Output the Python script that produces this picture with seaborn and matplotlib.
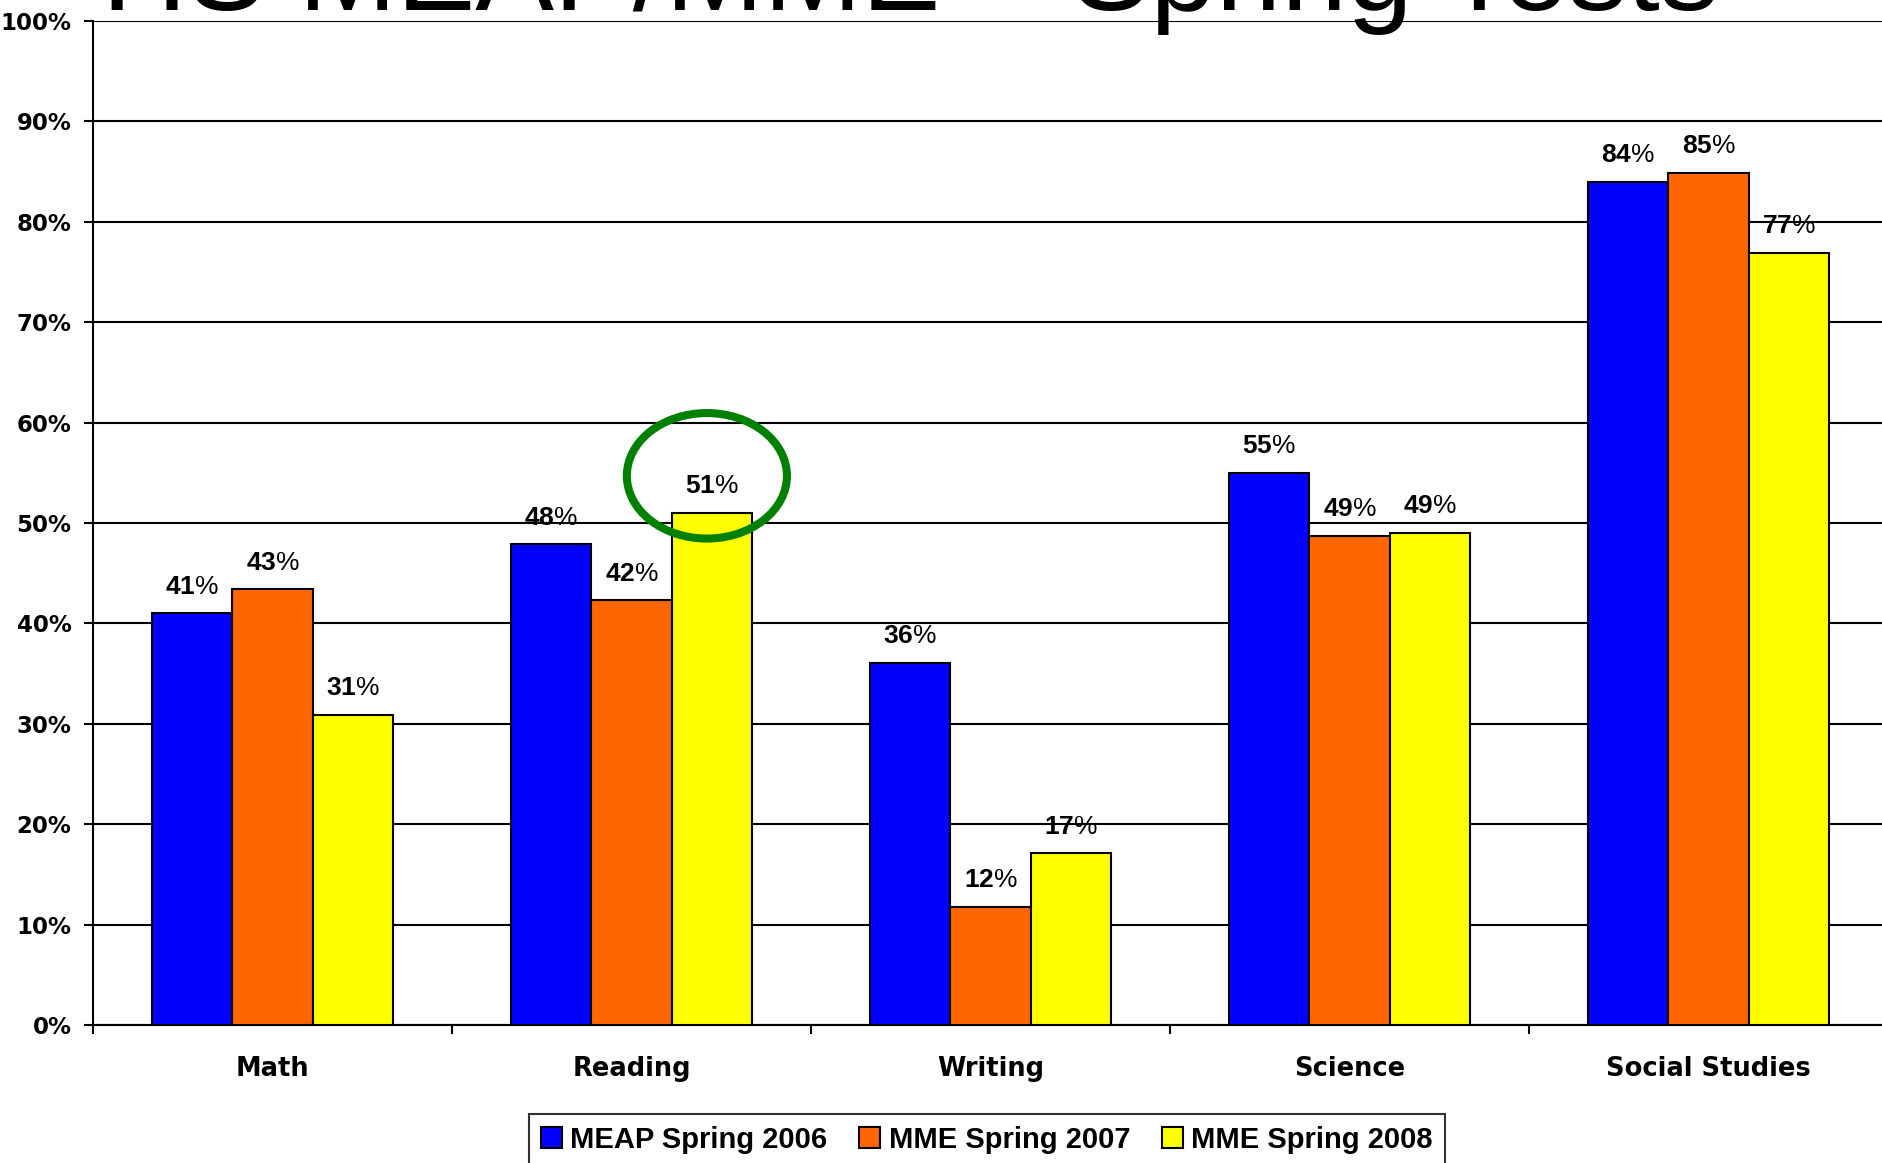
import matplotlib
matplotlib.use("Agg")
import matplotlib.pyplot as plt
import seaborn as sns
import pandas as pd
from matplotlib.patches import Ellipse
from matplotlib.ticker import FixedLocator

# ---- data ----
categories = ["Math", "Reading", "Writing", "Science", "Social Studies"]
series = ["MEAP Spring 2006", "MME Spring 2007", "MME Spring 2008"]
meap_2006 = [41.0, 47.9, 36.1, 55.0, 84.0]
mme_2007 = [43.4, 42.3, 11.8, 48.7, 84.9]
mme_2008 = [30.9, 51.0, 17.1, 49.0, 76.9]
labels_2006 = ["41%", "48%", "36%", "55%", "84%"]
labels_2007 = ["43%", "42%", "12%", "49%", "85%"]
labels_2008 = ["31%", "51%", "17%", "49%", "77%"]
y_ticks = [0, 10, 20, 30, 40, 50, 60, 70, 80, 90, 100]
y_tick_labels = [f"{v}%" for v in y_ticks]
title = "HS MEAP/MME \u2013 Spring Tests"
colors = ["#0000FF", "#FF6600", "#FFFF00"]

rows = []
for s, vals in zip(series, [meap_2006, mme_2007, mme_2008]):
    for c, v in zip(categories, vals):
        rows.append({"Subject": c, "Series": s, "Value": v})
df = pd.DataFrame(rows)

sns.set_theme(style="white")
plt.rcParams["font.family"] = ["Liberation Sans", "DejaVu Sans"]
plt.rcParams["text.color"] = "black"
plt.rcParams["xtick.color"] = "black"
plt.rcParams["ytick.color"] = "black"
plt.rcParams["xtick.labelcolor"] = "black"
plt.rcParams["ytick.labelcolor"] = "black"
plt.rcParams["legend.labelcolor"] = "black"
plt.rcParams["mathtext.fontset"] = "custom"
plt.rcParams["mathtext.rm"] = "Liberation Sans"
plt.rcParams["mathtext.bf"] = "Liberation Sans:bold"

W, H = 1883, 1163
fig = plt.figure(figsize=(W / 100, H / 100), dpi=100)
ax = fig.add_axes([93 / W, 1 - 1025 / H, 1795 / W, (1025 - 21) / H])

sns.barplot(data=df, x="Subject", y="Value", hue="Series", order=categories,
            hue_order=series, palette=colors, width=0.67, edgecolor="black",
            linewidth=1.5, saturation=1, ax=ax, zorder=3, legend=True)

ax.set_xlim(-0.5, 4.5)
ax.set_ylim(0, 100)
ax.set_yticks(y_ticks)
ax.set_yticklabels(y_tick_labels, fontsize=16.5, fontweight="bold",
                   family="DejaVu Sans", color="black")
ax.yaxis.grid(True, color="black", linewidth=1.5, zorder=0)
ax.set_axisbelow(True)
ax.set_xlabel("")
ax.set_ylabel("")
for side in ["top", "right"]:
    ax.spines[side].set_visible(False)
for side in ["left", "bottom"]:
    ax.spines[side].set_color("black")
    ax.spines[side].set_linewidth(1.5)
ax.tick_params(axis="y", which="major", direction="out", length=6.5, width=1.5,
               color="black", pad=9, left=True)
ax.set_xticks(range(len(categories)))
ax.set_xticklabels(categories, fontsize=18.5, fontweight="bold",
                   family="DejaVu Sans", color="black")
ax.tick_params(axis="x", which="major", length=0, pad=22)
ax.xaxis.set_minor_locator(FixedLocator([i - 0.5 for i in range(len(categories) + 1)]))
ax.tick_params(axis="x", which="minor", direction="out", length=6.5, width=1.5,
               color="black", bottom=True)

def bold_digits(lbl):
    # digits bold, percent sign in regular weight as in the reference
    return r"$\mathbf{" + lbl[:-1] + r"}$" + r"$\mathrm{\%}$"

for cont, labs in zip(ax.containers, [labels_2006, labels_2007, labels_2008]):
    ax.bar_label(cont, labels=[bold_digits(l) for l in labs], padding=10.5,
                 fontsize=19, color="black")

# highlight ellipse around the Reading 2008 label
ell = Ellipse((1.21, 54.7), width=0.446, height=12.5, fill=False,
              edgecolor="#008000", linewidth=5.8, zorder=5, clip_on=False)
ax.add_patch(ell)

# legend
handles, leg_labels = ax.get_legend_handles_labels()
ax.get_legend().remove()
leg = fig.legend(handles, leg_labels, loc="upper center",
                 bbox_to_anchor=(987 / W, 1 - 1114 / H), ncol=3, frameon=True,
                 fancybox=False, edgecolor="black", handlelength=0.7,
                 handleheight=0.7, handletextpad=0.3, columnspacing=1.1,
                 borderpad=0.4, borderaxespad=0, labelcolor="black",
                 prop={"size": 21, "weight": "bold", "family": "Liberation Sans"})
leg.get_frame().set_linewidth(1.5)

fig.text(102 / W, 1 - 10 / H, title, fontsize=85, va="baseline", ha="left",
         family="Liberation Sans", color="black")

fig.savefig("out.png", dpi=100)
